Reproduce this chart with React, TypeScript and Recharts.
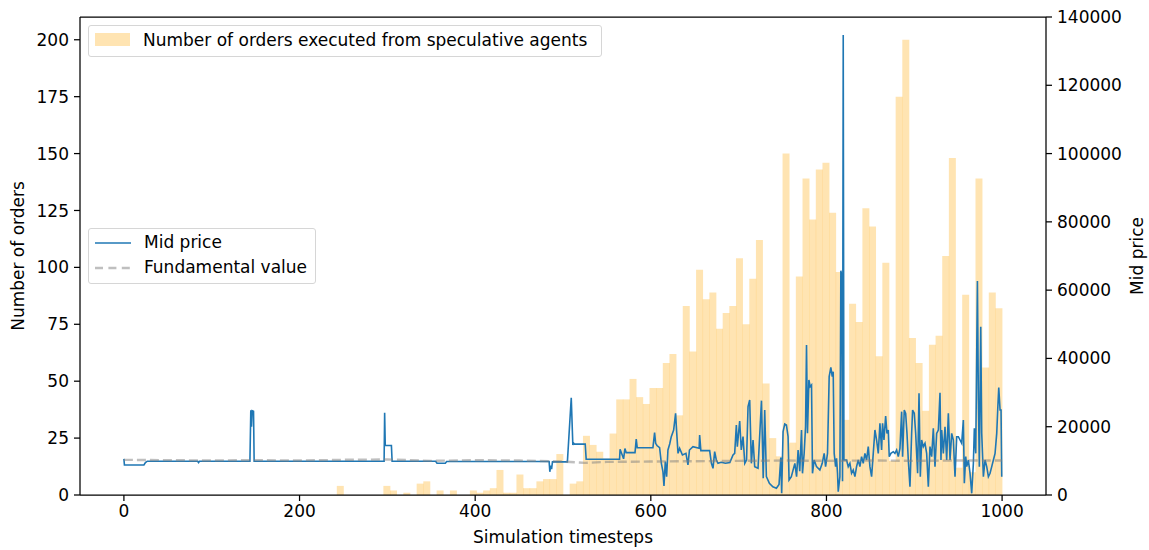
import React from "react"
import {
  ComposedChart,
  Bar,
  Line,
  XAxis,
  YAxis,
  Label,
  ReferenceLine,
} from "recharts"

// histogram: 132 equal bins over [0, 1000]
const BIN_COUNT = 132
const BIN_RANGE = 1000
const orderCounts = [
  0, 0, 0, 0, 0, 0, 0, 0, 0, 0, 0, 0, 0, 0, 0, 0, 0, 0, 0, 0, 0, 0, 0, 0, 0, 0, 0, 0, 0, 0, 0, 0,
  4, 0, 0, 0, 0, 0, 0, 4, 2, 0, 1, 0, 5, 6, 0, 2, 0, 2, 0, 0, 2, 1, 2, 3, 11, 1, 1, 9, 3, 3, 6, 7,
  7, 18, 0, 5, 6, 26, 22, 19, 16, 27, 42, 42, 51, 43, 40, 47, 47, 58, 62, 35, 83, 63, 99, 86, 89, 73,
  80, 83, 104, 75, 95, 112, 49, 25, 17, 150, 23, 96, 139, 121, 143, 146, 124, 98, 33, 84, 76, 126,
  118, 61, 102, 15, 175, 200, 69, 58, 37, 66, 70, 105, 148, 12, 88, 10, 139, 56, 89, 82,
]

// mid price, [timestep, price]
const midPrice: [number, number][] = [
  [0, 10600], [0.6, 8800], [22.8, 8800], [24.5, 9500], [26.6, 9900], [84, 9900], [85, 9500], [86, 9900],
  [143.5, 9900], [144.5, 24800], [145.3, 20000], [146, 24700], [147.6, 24500], [148.3, 9900],
  [296.3, 9900], [296.9, 24100], [297.6, 14500], [304.6, 14500], [305.4, 9900], [355, 9900],
  [356.5, 9300], [366, 9300], [367.5, 9800], [484.2, 9800], [485, 6800], [486, 8600], [487, 7600],
  [488, 9700], [505, 9700], [509.4, 28500], [511.2, 14650], [512, 15200], [513, 14900], [525.3, 14900],
  [526.4, 10450], [564.4, 10450], [565, 13380], [567, 12000], [569, 10600], [570.5, 13600], [572, 12400],
  [582, 12400], [583.4, 16400], [584.5, 13860], [602.4, 13860], [604.3, 18260], [605.5, 15130],
  [607, 14500], [610, 13860], [612, 9270], [613.8, 6840], [615, 2640], [616.5, 9800], [618, 5370],
  [619.5, 13180], [621.5, 14950], [623.3, 17090], [626, 19040], [628.2, 23920], [629.4, 18550],
  [631, 12200], [632.8, 13670], [636, 11720], [640, 12200], [642.3, 8790], [644, 13180], [648, 14160],
  [655, 13670], [655.6, 17570], [657, 12990], [667, 12990], [669, 9270], [670.8, 7810], [672.7, 12690],
  [674.6, 10250], [676.5, 9270], [680, 9600], [685, 9300], [690, 9500], [693.6, 11720], [695.5, 12200],
  [697.4, 20500], [698.5, 14160], [701.2, 21670], [703, 13180], [705, 17090], [707, 9270], [709, 10250],
  [710.7, 25870], [712.6, 27830], [714.5, 9270], [716.4, 16100], [718.3, 8300], [722.1, 7810],
  [726, 27630], [728, 4880], [729.7, 24900], [731.6, 5370], [735, 3400], [739, 2400], [743, 2000],
  [746, 3100], [748, 11000], [749, 490], [750.6, 18550], [752.5, 20800], [754.4, 20500], [756.3, 17090],
  [757.4, 4390], [760, 5370], [764, 9270], [766, 5370], [767.7, 13180], [769.6, 7000],
  [771.6, 19040], [772.7, 6350], [774.6, 12200], [776.2, 20010], [777.3, 43930], [778.4, 18060],
  [780, 33680], [781.5, 31730], [783, 32220], [784.1, 6350], [786, 10250], [788.7, 8300], [792.5, 7320],
  [795.2, 9270], [797.4, 12200], [799, 8300], [801.2, 12200], [803.1, 34660], [805, 37400],
  [806.6, 34660], [807.7, 36120], [808.8, 12200], [810.4, 8300], [811.5, 10740], [812.6, 6350],
  [813.4, 970], [815.3, 5370], [816.4, 65700], [817.5, 64000], [818.3, 4000], [819.1, 134700],
  [819.9, 10250], [822.9, 10250], [824.8, 8300], [826.7, 9270], [828.6, 6350], [830.5, 7320],
  [832.4, 5370], [834.3, 8300], [836.2, 10250], [838.1, 8300], [840, 11230], [841.9, 9270],
  [843.8, 12200], [845.7, 10250], [847.6, 14160], [849.5, 8300], [851.4, 5370], [853.3, 12200],
  [855.2, 19040], [857.1, 16110], [859, 12200], [860.9, 20990], [862.8, 13180], [863.9, 20990],
  [865.5, 16110], [867.4, 23140], [868.9, 18060], [870.4, 19040], [871.5, 11230], [873.4, 12200],
  [876.1, 12690], [878, 12200], [879.9, 13180], [881.8, 11230], [883.7, 13670], [885.6, 24410],
  [886.7, 11230], [888.6, 24900], [890.2, 23920], [891.7, 18060], [893.2, 10250], [895.1, 2440],
  [897, 18060], [898.1, 24900], [900, 23920], [901.6, 18060], [903.8, 6350], [905.4, 29780],
  [906.9, 5370], [908.4, 16110], [910.3, 14160], [912.2, 15130], [914.1, 12200], [916, 2440],
  [917.9, 14160], [919.8, 11230], [921.7, 19530], [923.6, 8300], [925.5, 18060], [927.4, 19040],
  [929.3, 29970], [930.4, 10250], [931.2, 19040], [933.1, 12200], [935, 20010], [936.9, 10250],
  [938.8, 23920], [940.7, 10250], [942.6, 18060], [944.5, 16110], [946.4, 5370], [948.3, 17080],
  [950.2, 17080], [952.1, 16110], [954, 15130], [955.9, 21970], [957, 3420], [958.6, 11230],
  [959.7, 8300], [961.6, 10250], [963.5, 6350], [965.4, 490], [967.3, 9270], [968.4, 19530],
  [970, 12200], [971.9, 62680], [973, 27830], [974.1, 8300], [975.7, 49300], [976.8, 18060],
  [978.7, 5370], [980.6, 10250], [982.5, 8300], [984.4, 5370], [986.3, 6350], [988.2, 8300],
  [990.1, 10250], [992, 12200], [993.9, 18060], [995, 24900], [996.2, 31440], [997.7, 24900],
  [998.8, 24900], [999.6, 5370],
]

// fundamental value, [timestep, value]
const fundamental: [number, number][] = [
  [0, 10300], [50, 10200], [100, 10100], [150, 10200], [200, 10100], [250, 10300], [300, 10400],
  [350, 10000], [400, 10200], [450, 10100], [500, 9800], [525, 9400], [550, 9700], [600, 9800],
  [650, 9900], [700, 10000], [750, 10100], [800, 10000], [850, 10100], [900, 10000], [950, 10100],
  [1000, 10100],
]

const xTicks = [0, 200, 400, 600, 800, 1000]
const leftTicks = [0, 25, 50, 75, 100, 125, 150, 175, 200]
const rightTicks = [0, 20000, 40000, 60000, 80000, 100000, 120000, 140000]

const binWidth = BIN_RANGE / BIN_COUNT
const barData = orderCounts.map((count, i) => ({ x: (i + 0.5) * binWidth, count }))
const midData = midPrice.map(([t, price]) => ({ t, price }))
const fundData = fundamental.map(([t, value]) => ({ t, value }))

const FONT = "'DejaVu Sans', sans-serif"
const tickStyle = { fill: "#000", fontSize: 17, fontFamily: FONT }

const W = 1149
const H = 550

export default function App() {
  return (
    <div style={{ position: "absolute", left: 0, top: 0, width: W, height: H, background: "#fff", fontFamily: FONT }}>
      <ComposedChart
        width={W}
        height={H}
        data={barData}
        margin={{ top: 17, right: 0, bottom: 0, left: 0 }}
        barCategoryGap={0}
        barGap={0}
      >
        <XAxis xAxisId="bins" dataKey="x" type="number" domain={[-50, 1050]} allowDataOverflow hide height={0} />
        <XAxis
          xAxisId="t"
          dataKey="t"
          type="number"
          domain={[-50, 1050]}
          allowDataOverflow
          ticks={xTicks}
          height={55}
          tick={tickStyle}
          tickSize={6}
          tickMargin={4}
          stroke="#000"
          strokeWidth={1.25}
        >
          <Label value="Simulation timesteps" position="insideBottom" offset={7} style={{ fill: "#000", fontSize: 17, fontFamily: FONT }} />
        </XAxis>
        <YAxis
          yAxisId="left"
          orientation="left"
          width={80}
          domain={[0, 210]}
          allowDataOverflow
          ticks={leftTicks}
          tick={tickStyle}
          tickSize={6}
          tickMargin={5}
          stroke="#000"
          strokeWidth={1.25}
        >
          <Label
            content={() => (
              <text x={18} y={256} transform="rotate(-90 18 256)" textAnchor="middle" dominantBaseline="central" fill="#000" fontSize={17} fontFamily={FONT}>
                Number of orders
              </text>
            )}
          />
        </YAxis>
        <YAxis
          yAxisId="right"
          orientation="right"
          width={103}
          domain={[0, 140000]}
          allowDataOverflow
          ticks={rightTicks}
          tick={tickStyle}
          tickSize={6}
          tickMargin={5}
          stroke="#000"
          strokeWidth={1.25}
        >
          <Label
            content={() => (
              <text x={1137} y={256} transform="rotate(-90 1137 256)" textAnchor="middle" dominantBaseline="central" fill="#000" fontSize={17} fontFamily={FONT}>
                Mid price
              </text>
            )}
          />
        </YAxis>
        <Bar
          xAxisId="bins"
          yAxisId="left"
          dataKey="count"
          fill="#FFA500"
          fillOpacity={0.3}
          isAnimationActive={false}
        />
        <Line
          xAxisId="t"
          yAxisId="right"
          data={midData}
          dataKey="price"
          type="linear"
          stroke="#1f77b4"
          strokeWidth={1.6}
          dot={false}
          isAnimationActive={false}
        />
        <Line
          xAxisId="t"
          yAxisId="right"
          data={fundData}
          dataKey="value"
          type="linear"
          stroke="#808080"
          strokeOpacity={0.5}
          strokeWidth={2.4}
          strokeDasharray="9 4"
          dot={false}
          isAnimationActive={false}
        />
        <ReferenceLine xAxisId="t" yAxisId="left" y={210} stroke="#000" strokeWidth={1.25} />
      </ComposedChart>

      {/* bar legend */}
      <div
        style={{
          position: "absolute", left: 88, top: 25, width: 512, height: 30,
          border: "1px solid #d6d6d6", borderRadius: 3, background: "rgba(255,255,255,0.8)",
        }}
      >
        <div style={{ position: "absolute", left: 6, top: 7, width: 35, height: 13, background: "#FFA500", opacity: 0.3 }} />
        <div style={{ position: "absolute", left: 54, top: 4, fontSize: 17, lineHeight: "20px", color: "#000", whiteSpace: "nowrap" }}>
          Number of orders executed from speculative agents
        </div>
      </div>

      {/* line legend */}
      <div
        style={{
          position: "absolute", left: 88, top: 228, width: 226, height: 54,
          border: "1px solid #d6d6d6", borderRadius: 3, background: "rgba(255,255,255,0.8)",
        }}
      >
        <svg style={{ position: "absolute", left: 0, top: 0 }} width={50} height={54}>
          <line x1={6} y1={14} x2={42} y2={14} stroke="#1f77b4" strokeWidth={1.6} />
          <line x1={6} y1={39} x2={42} y2={39} stroke="#808080" strokeOpacity={0.5} strokeWidth={2.4} strokeDasharray="8 5.4" />
        </svg>
        <div style={{ position: "absolute", left: 55, top: 3, fontSize: 17, lineHeight: "20px", color: "#000", whiteSpace: "nowrap" }}>
          Mid price
        </div>
        <div style={{ position: "absolute", left: 55, top: 28, fontSize: 17, lineHeight: "20px", color: "#000", whiteSpace: "nowrap" }}>
          Fundamental value
        </div>
      </div>
    </div>
  )
}
